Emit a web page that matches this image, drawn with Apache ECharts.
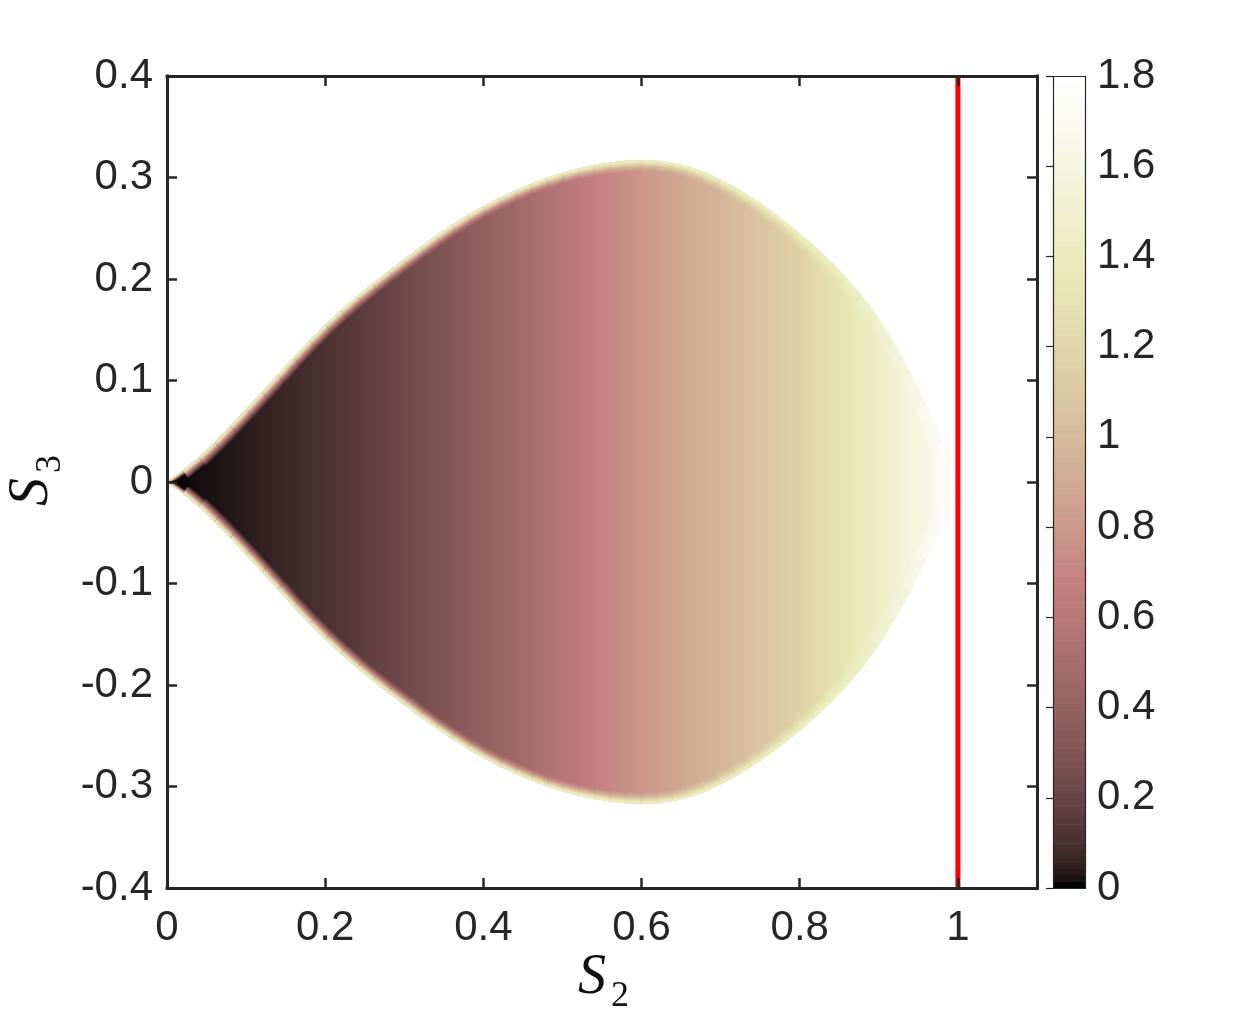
<!DOCTYPE html>
<html>
<head>
<meta charset="utf-8">
<script src="https://cdn.jsdelivr.net/npm/echarts@6/dist/echarts.min.js"></script>
<style>
html,body{margin:0;padding:0;background:#fff;}
#c{width:1234px;height:1026px;}
</style>
</head>
<body>
<div id="c"></div>
<script>
// ---- data ----
const S2 = [0.00,0.02,0.04,0.06,0.08,0.10,0.12,0.14,0.16,0.18,0.20,0.22,0.24,0.26,0.28,0.30,0.32,0.34,0.36,0.38,
            0.40,0.42,0.44,0.46,0.48,0.50,0.52,0.54,0.56,0.58,0.60,0.62,0.64,0.66,0.68,0.70,0.72,0.74,0.76,0.78,
            0.80,0.82,0.84,0.86,0.88,0.90,0.92,0.94,0.96,0.98,1.00];
// upper edge of the region (lower edge is its mirror)
const S3_UPPER = [0.0000,0.0110,0.0240,0.0390,0.0550,0.0715,0.0885,0.1055,0.1227,0.1392,0.1547,0.1692,0.1827,0.1955,0.2077,0.2194,0.2312,0.2424,0.2529,0.2627,
                  0.2717,0.2799,0.2873,0.2939,0.2997,0.3047,0.3089,0.3123,0.3148,0.3164,0.3170,0.3165,0.3145,0.3107,0.3051,0.2980,0.2896,0.2800,0.2693,0.2576,
                  0.2450,0.2315,0.2167,0.2004,0.1821,0.1606,0.1356,0.1071,0.0751,0.0385,0.0000];
// colour value along the middle of the region
const CENTER_VALUE = [0.000,0.002,0.008,0.014,0.022,0.032,0.044,0.057,0.071,0.086,0.102,0.122,0.145,0.170,0.195,0.222,0.252,0.283,0.315,0.348,
                      0.382,0.420,0.458,0.498,0.538,0.580,0.625,0.672,0.712,0.750,0.788,0.826,0.862,0.898,0.934,0.970,1.010,1.050,1.090,1.130,
                      1.170,1.220,1.270,1.330,1.390,1.450,1.510,1.570,1.640,1.710,1.800];
const EDGE_VALUE = 1.45;        // colour value on the bright rim
const RED_LINE_S2 = 1.0;
const X_TICK_LABELS = ['0','0.2','0.4','0.6','0.8','1'];
const Y_TICK_LABELS = ['-0.4','-0.3','-0.2','-0.1','0','0.1','0.2','0.3','0.4'];
const CB_TICK_LABELS = ['0','0.2','0.4','0.6','0.8','1','1.2','1.4','1.6','1.8'];
const C_MIN = 0, C_MAX = 1.8;

// ---- MATLAB "pink" colormap ----
function pink(v, a) {
  const t = Math.max(0, Math.min(1, (v - C_MIN) / (C_MAX - C_MIN)));
  const hr = Math.min(1, t / 0.375);
  const hg = Math.max(0, Math.min(1, (t - 0.375) / 0.375));
  const hb = Math.max(0, Math.min(1, (t - 0.75) / 0.25));
  const r = Math.sqrt((2 * t + hr) / 3), g = Math.sqrt((2 * t + hg) / 3), b = Math.sqrt((2 * t + hb) / 3);
  return 'rgba(' + Math.round(r * 255) + ',' + Math.round(g * 255) + ',' + Math.round(b * 255) + ',' + (a == null ? 1 : a) + ')';
}

const TXT = '#262626';
const FONT = 'Liberation Sans, Arial, Helvetica, sans-serif';
const fmt = (list) => (v) => { const s = String(Math.round(v * 100) / 100); return list.includes(s) ? s : ''; };

const RIM_W = 12;
const RIM_PROFILE = [[0, 1], [0.12, 0.93], [0.25, 0.74], [0.4, 0.5], [0.6, 0.25], [0.8, 0.08], [1, 0]];

function bodyRender(params, api) {
  const n = S2.length;
  const up = [], lo = [];
  for (let j = 0; j < n; j++) { up.push(api.coord([S2[j], S3_UPPER[j]])); lo.push(api.coord([S2[j], -S3_UPPER[j]])); }
  const pts = up.concat(lo.slice().reverse());
  const xa = api.coord([S2[0], 0])[0], xb = api.coord([S2[n - 1], 0])[0];
  const stops = S2.map((x, j) => ({ offset: (x - S2[0]) / (S2[n - 1] - S2[0]), color: pink(CENTER_VALUE[j]) }));
  const edge = pink(EDGE_VALUE + 0.05, 0.45);
  return {
    type: 'group',
    children: [
      { type: 'polygon', shape: { points: pts }, style: { fill: new echarts.graphic.LinearGradient(xa, 0, xb, 0, stops, true) } },
      { type: 'polyline', shape: { points: up, smooth: 0 }, style: { fill: null, stroke: edge, lineWidth: 1.6 } },
      { type: 'polyline', shape: { points: lo, smooth: 0 }, style: { fill: null, stroke: edge, lineWidth: 1.6 } }
    ]
  };
}

function rimRender(params, api) {
  const i = params.dataIndex;
  const n = S2.length;
  const yc = api.coord([0, 0])[1];
  const top = (j) => { const k = Math.max(0, Math.min(n - 1, j)); return api.coord([S2[k], S3_UPPER[k]]); };
  const P = [], N = [], W = [];
  [i, i + 1].forEach((j) => {
    const p = top(j), a = top(j - 1), b = top(j + 1);
    let tx = b[0] - a[0], ty = b[1] - a[1];
    const L = Math.hypot(tx, ty) || 1; tx /= L; ty /= L;
    const nx = -ty, ny = tx;
    const h = yc - p[1];
    const w = Math.max(0, Math.min(RIM_W, 0.6 * h / Math.max(ny, 0.05)));
    P.push(p); N.push([nx, ny]); W.push(w);
  });
  const lg = (W[0] + W[1]) / 2;
  if (lg < 0.3) return null;
  let sx = P[1][0] - P[0][0], sy = P[1][1] - P[0][1];
  const sl = Math.hypot(sx, sy) || 1; sx /= sl; sy /= sl;
  const ns = [-sy, sx];
  const M = [(P[0][0] + P[1][0]) / 2, (P[0][1] + P[1][1]) / 2];
  const vin = (CENTER_VALUE[i] + CENTER_VALUE[i + 1]) / 2;
  const vr = Math.max(EDGE_VALUE, vin + 0.05);
  const stops = RIM_PROFILE.map(([o, f]) => ({ offset: o, color: pink(vin + (vr - vin) * f, o === 1 ? 0 : 1) }));
  const ptsTop = [P[0], P[1], [P[1][0] + N[1][0] * W[1], P[1][1] + N[1][1] * W[1]], [P[0][0] + N[0][0] * W[0], P[0][1] + N[0][1] * W[0]]];
  const mir = (p) => [p[0], 2 * yc - p[1]];
  const ptsBot = ptsTop.map(mir);
  const gTop = new echarts.graphic.LinearGradient(M[0], M[1], M[0] + ns[0] * lg, M[1] + ns[1] * lg, stops, true);
  const Mb = mir(M);
  const gBot = new echarts.graphic.LinearGradient(Mb[0], Mb[1], Mb[0] + ns[0] * lg, Mb[1] - ns[1] * lg, stops, true);
  return {
    type: 'group',
    children: [
      { type: 'polygon', shape: { points: ptsTop }, style: { fill: gTop } },
      { type: 'polygon', shape: { points: ptsBot }, style: { fill: gBot } }
    ]
  };
}

const CB_LEVELS = 128;
const cbData = [];
for (let k = 0; k < CB_LEVELS; k++) cbData.push([0.5, k]);

function cbRender(params, api) {
  const k = params.dataIndex;
  const v0 = C_MIN + (C_MAX - C_MIN) * k / CB_LEVELS, v1 = C_MIN + (C_MAX - C_MIN) * (k + 1) / CB_LEVELS;
  const p0 = api.coord([0, v0]), p1 = api.coord([1, v1]);
  return { type: 'rect', shape: { x: p0[0], y: p1[1] - 0.3, width: p1[0] - p0[0], height: p0[1] - p1[1] + 0.6 },
           style: { fill: pink(C_MIN + (C_MAX - C_MIN) * k / (CB_LEVELS - 1)) } };
}
function cbBorder(params, api) {
  const p0 = api.coord([0, C_MIN]), p1 = api.coord([1, C_MAX]);
  return { type: 'rect', shape: { x: Math.round(p0[0]) + 0.5, y: Math.round(p1[1]) + 0.5, width: Math.round(p1[0] - p0[0]), height: Math.round(p0[1] - p1[1]) },
           style: { fill: 'none', stroke: TXT, lineWidth: 1.2 } };
}

const axisLineStyle = { color: TXT, width: 3, cap: 'square' };
const tickStyle = { show: true, inside: true, length: 10, lineStyle: { color: TXT, width: 2.5 } };
const labelStyle = { color: TXT, fontSize: 42, fontFamily: FONT };
const TITLE_FONT = 'italic 56px "Liberation Serif", "DejaVu Serif", serif';
const SUB_FONT = '36px "Liberation Serif", "DejaVu Serif", serif';

const option = {
  animation: false,
  backgroundColor: '#ffffff',
  grid: [
    { left: 167, right: 197, top: 76, bottom: 138 },
    { left: 1053, width: 32, top: 76, bottom: 138 }
  ],
  xAxis: [
    { gridIndex: 0, type: 'value', min: 0, max: 1.1, interval: 0.2, position: 'bottom', z: 10,
      axisLine: { show: true, onZero: false, lineStyle: axisLineStyle }, axisTick: tickStyle,
      axisLabel: Object.assign({ margin: 19, formatter: fmt(X_TICK_LABELS), showMaxLabel: false }, labelStyle),
      splitLine: { show: false } },
    { gridIndex: 0, type: 'value', min: 0, max: 1.1, interval: 0.2, position: 'top', z: 10,
      axisLine: { show: true, onZero: false, lineStyle: axisLineStyle }, axisTick: tickStyle,
      axisLabel: { show: false }, splitLine: { show: false } },
    { gridIndex: 1, type: 'value', min: 0, max: 1, show: false }
  ],
  yAxis: [
    { gridIndex: 0, type: 'value', min: -0.4, max: 0.4, interval: 0.1, position: 'left', z: 10,
      axisLine: { show: true, onZero: false, lineStyle: axisLineStyle }, axisTick: tickStyle,
      axisLabel: Object.assign({ margin: 14, formatter: fmt(Y_TICK_LABELS) }, labelStyle),
      splitLine: { show: false } },
    { gridIndex: 0, type: 'value', min: -0.4, max: 0.4, interval: 0.1, position: 'right', z: 10,
      axisLine: { show: true, onZero: false, lineStyle: axisLineStyle }, axisTick: tickStyle,
      axisLabel: { show: false }, splitLine: { show: false } },
    { gridIndex: 1, type: 'value', min: C_MIN, max: C_MAX, interval: 0.2, position: 'right', z: 10,
      axisLine: { show: false }, axisTick: { show: true, inside: true, length: 7, lineStyle: { color: TXT, width: 1.2 } },
      axisLabel: Object.assign({ margin: 12, formatter: fmt(CB_TICK_LABELS) }, labelStyle),
      splitLine: { show: false } }
  ],
  series: [
    { type: 'custom', xAxisIndex: 0, yAxisIndex: 0, z: 1, silent: true, data: [[0.5, 0]], renderItem: bodyRender, clip: true },
    { type: 'custom', xAxisIndex: 0, yAxisIndex: 0, z: 2, silent: true,
      data: S2.slice(0, -1).map((x, j) => [x, S3_UPPER[j]]), renderItem: rimRender, clip: true },
    { type: 'line', xAxisIndex: 0, yAxisIndex: 0, z: 3, silent: true, symbol: 'none',
      data: [[RED_LINE_S2, -0.4], [RED_LINE_S2, 0.4]], lineStyle: { color: '#ff0000', width: 5 } },
    { type: 'custom', xAxisIndex: 2, yAxisIndex: 2, z: 1, silent: true, data: cbData, renderItem: cbRender },
    { type: 'custom', xAxisIndex: 2, yAxisIndex: 2, z: 3, silent: true, data: [[0.5, 0.9]], renderItem: cbBorder }
  ],
  graphic: [
    { type: 'text', x: 592, y: 978, style: { text: 'S', font: TITLE_FONT, fill: '#111', textAlign: 'center', textVerticalAlign: 'middle' } },
    { type: 'text', x: 620, y: 997, style: { text: '2', font: SUB_FONT, fill: '#111', textAlign: 'center', textVerticalAlign: 'middle' } },
    { type: 'group', x: 32, y: 492, rotation: Math.PI / 2, children: [
      { type: 'text', x: 0, y: 0, style: { text: 'S', font: TITLE_FONT, fill: '#111', textAlign: 'center', textVerticalAlign: 'middle' } },
      { type: 'text', x: 28, y: 19, style: { text: '3', font: SUB_FONT, fill: '#111', textAlign: 'center', textVerticalAlign: 'middle' } }
    ] }
  ]
};

const chart = echarts.init(document.getElementById('c'), null, { renderer: 'canvas' });
chart.setOption(option);
</script>
</body>
</html>
